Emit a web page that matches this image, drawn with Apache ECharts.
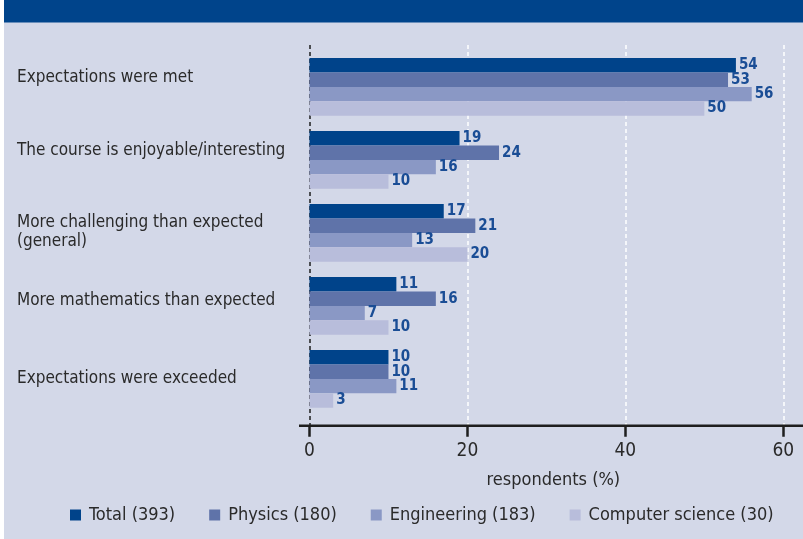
<!DOCTYPE html>
<html>
<head>
<meta charset="utf-8">
<script src="https://cdn.jsdelivr.net/npm/echarts@6/dist/echarts.min.js"></script>
<style>
html,body{margin:0;padding:0;background:#fff;}
#chart{width:803px;height:539px;}
</style>
</head>
<body>
<div id="chart"></div>
<script>
// ---- data ----
const categories = [
  'Expectations were met',
  'The course is enjoyable/interesting',
  'More challenging than expected\n(general)',
  'More mathematics than expected',
  'Expectations were exceeded'
];
const seriesNames = ['Total (393)', 'Physics (180)', 'Engineering (183)', 'Computer science (30)'];
const total       = [54, 19, 17, 11, 10];
const physics     = [53, 24, 21, 16, 10];
const engineering = [56, 16, 13, 7, 11];
const compsci     = [50, 10, 20, 10, 3];
const xTicks = [0, 20, 40, 60];
const xAxisName = 'respondents (%)';

// ---- style ----
const FONT = '"DejaVu Sans Condensed", "Liberation Sans", Arial, sans-serif';
const colors = ['#00438a', '#5f73a9', '#8a98c5', '#b8bddb'];
const labelNudge = [9, 9, 2, 5, 0];

const chart = echarts.init(document.getElementById('chart'), null, {renderer: 'canvas'});
const values = [total, physics, engineering, compsci];

const rich = {};
labelNudge.forEach((n, i) => {
  rich['c' + i] = {fontFamily: FONT, fontSize: 17, color: '#2a2a2a', lineHeight: 21, align: 'left'};
  rich['l' + i] = {fontFamily: FONT, fontSize: 17, color: '#2a2a2a', lineHeight: 21, align: 'left', padding: [0, 0, n * 2, 0]};
});

const option = {
  backgroundColor: '#d3d8e8',
  animation: false,
  color: colors,
  graphic: [
    {type: 'rect', shape: {x: 0, y: 0, width: 4, height: 539}, style: {fill: '#ffffff'}, z: 100},
    {type: 'rect', shape: {x: 4, y: 0, width: 799, height: 22.5}, style: {fill: '#00448b'}, z: 100},
    {type: 'line', shape: {x1: 299, y1: 425.7, x2: 803, y2: 425.7}, style: {stroke: '#1e1e1e', lineWidth: 2.5}, z: 100}
  ],
  grid: [
    {left: 309.5, right: 19.7, top: 50.4, height: 365, containLabel: false, outerBoundsMode: 'none'},
    {left: 309.5, right: 19.7, top: 45, height: 380.7, containLabel: false, outerBoundsMode: 'none'}
  ],
  xAxis: [
    {type: 'value', gridIndex: 0, min: 0, max: 60, interval: 20, show: false},
    {
      type: 'value', gridIndex: 1, min: xTicks[0], max: xTicks[xTicks.length - 1], interval: 20,
      axisLine: {show: false},
      axisTick: {show: true, length: 11, lineStyle: {color: '#1e1e1e', width: 2.5}},
      axisLabel: {fontFamily: FONT, fontSize: 19, color: '#2a2a2a', margin: 16},
      splitLine: {show: true, lineStyle: {color: ['#1e1e1e', '#ffffff', '#ffffff', '#ffffff'], type: [4, 3], width: 1.5}},
      name: xAxisName, nameLocation: 'middle', nameGap: 46,
      nameTextStyle: {fontFamily: FONT, fontSize: 18, color: '#2a2a2a', padding: [0, 0, 0, 14]}
    }
  ],
  yAxis: [
    {
      type: 'category', gridIndex: 0, inverse: true,
      data: categories,
      axisLine: {show: false}, axisTick: {show: false},
      axisLabel: {
        margin: 292.5, align: 'left', fontFamily: FONT, fontSize: 17, color: '#2a2a2a', lineHeight: 21,
        formatter: function (value, index) {
          const lines = value.split('\n');
          return lines.map((l, k) => '{' + (k === lines.length - 1 ? 'l' : 'c') + index + '|' + l + '}').join('\n');
        },
        rich: rich
      }
    },
    {type: 'category', gridIndex: 1, show: false, data: categories}
  ],
  legend: {
    left: 70, top: 506, padding: 0,
    itemWidth: 11, itemHeight: 11, itemGap: 34,
    icon: 'rect',
    textStyle: {fontFamily: FONT, fontSize: 18, color: '#2a2a2a', padding: [0, 0, 0, 3]},
    data: seriesNames
  },
  series: seriesNames.map((name, i) => ({
    name: name,
    type: 'bar',
    xAxisIndex: 0, yAxisIndex: 0,
    data: values[i],
    barGap: '0%',
    barCategoryGap: '21%',
    itemStyle: {color: colors[i]},
    label: {
      show: true, position: 'right', distance: 3,
      fontFamily: FONT, fontWeight: 'bold', fontSize: 15, color: '#1a4d95'
    }
  }))
};
chart.setOption(option);
</script>
</body>
</html>
